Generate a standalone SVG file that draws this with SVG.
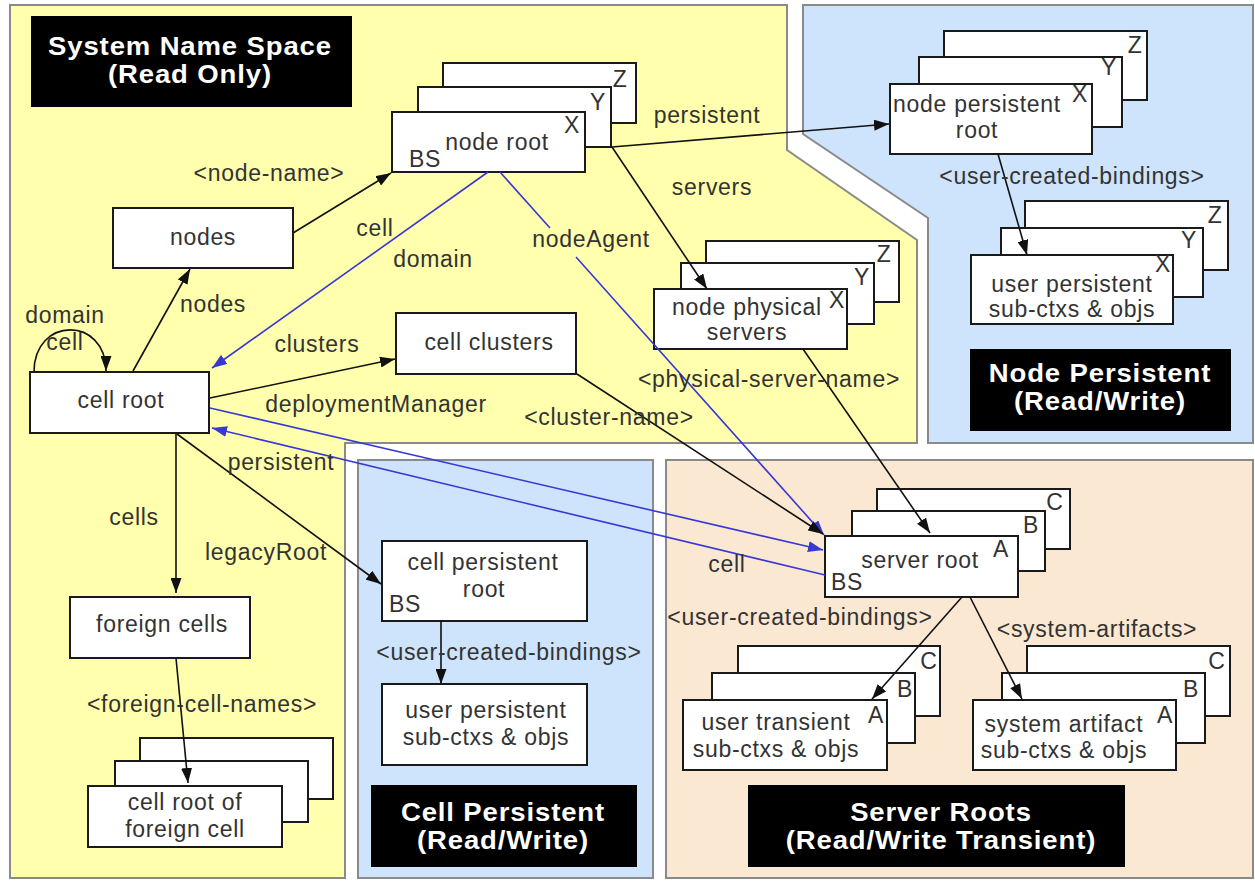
<svg xmlns="http://www.w3.org/2000/svg" width="1255" height="881" viewBox="0 0 1255 881">
<style>
.region{stroke:#8a8a8a;stroke-width:2}
.yel{fill:#ffffad}
.blu{fill:#cde4fc}
.pea{fill:#fbe8d3}
.box{fill:#fff;stroke:#1a1a1a;stroke-width:2}
.ttl{fill:#000}
.tt{font-family:"Liberation Sans",Arial,sans-serif;font-weight:bold;font-size:25px;fill:#fff;text-anchor:middle;letter-spacing:0.8px;transform-box:fill-box;transform-origin:center;transform:scaleX(1.1)}
.t{font-family:"Liberation Sans",Arial,sans-serif;font-size:23px;fill:#333;text-anchor:middle;letter-spacing:0.7px}
.c{fill:none;stroke:#111;stroke-width:1.6;marker-end:url(#ab)}
.c.b{stroke:#3838d2;marker-end:url(#au)}
</style>
<defs>
<marker id="ab" markerUnits="userSpaceOnUse" markerWidth="16" markerHeight="11" refX="15" refY="5.5" orient="auto"><path d="M0,0 L15,5.5 L0,11 z" fill="#111"/></marker>
<marker id="au" markerUnits="userSpaceOnUse" markerWidth="16" markerHeight="11" refX="15" refY="5.5" orient="auto"><path d="M0,0 L15,5.5 L0,11 z" fill="#3838d2"/></marker>
</defs>
<rect width="1255" height="881" fill="#fff"/>
<g id="regions">
<polygon class="region yel" points="10,5 787,5 787,150 917,240 917,443 345,443 345,878 10,878"/>
<polygon class="region blu" points="803,5 1253,5 1253,443 928,443 928,218 803,134"/>
<rect class="region blu" x="358" y="460" width="295" height="418"/>
<rect class="region pea" x="666" y="460" width="587" height="418"/>
</g>
<g id="title-system">
<rect class="ttl" x="31" y="16" width="321" height="91"/>
<text class="tt" x="190" y="55">System Name Space</text>
<text class="tt" x="190" y="83">(Read Only)</text>
</g>
<g id="title-node-persistent">
<rect class="ttl" x="970" y="349" width="261" height="82"/>
<text class="tt" x="1100" y="382">Node Persistent</text>
<text class="tt" x="1100" y="410">(Read/Write)</text>
</g>
<g id="title-cell-persistent">
<rect class="ttl" x="371" y="785" width="266" height="82"/>
<text class="tt" x="503" y="821">Cell Persistent</text>
<text class="tt" x="503" y="849">(Read/Write)</text>
</g>
<g id="title-server-roots">
<rect class="ttl" x="748" y="785" width="377" height="82"/>
<text class="tt" x="941" y="821">Server Roots</text>
<text class="tt" x="941" y="849">(Read/Write Transient)</text>
</g>
<g id="node-nodes">
<rect class="box" x="113" y="208" width="180" height="60"/>
<text class="t" x="203" y="245">nodes</text>
</g>
<g id="node-cell-root">
<rect class="box" x="30" y="372" width="179" height="61"/>
<text class="t" x="121" y="408">cell root</text>
</g>
<g id="node-cell-clusters">
<rect class="box" x="396" y="313" width="180" height="61"/>
<text class="t" x="489" y="350">cell clusters</text>
</g>
<g id="node-foreign-cells">
<rect class="box" x="70" y="597" width="180" height="61"/>
<text class="t" x="162" y="632">foreign cells</text>
</g>
<g id="node-cell-root-foreign">
<rect class="box" x="140" y="738" width="193" height="61"/>
<rect class="box" x="115" y="761" width="193" height="61"/>
<rect class="box" x="88" y="786" width="194" height="61"/>
<text class="t" x="185" y="810">cell root of</text>
<text class="t" x="185" y="837">foreign cell</text>
</g>
<g id="node-node-root">
<rect class="box" x="443" y="63" width="193" height="60"/>
<text class="t" x="620" y="87">Z</text>
<rect class="box" x="418" y="87" width="193" height="60"/>
<text class="t" x="598" y="110">Y</text>
<rect class="box" x="392" y="112" width="193" height="60"/>
<text class="t" x="572" y="133">X</text>
<text class="t" x="497" y="150">node root</text>
<text class="t" x="425" y="167">BS</text>
</g>
<g id="node-node-persistent-root">
<rect class="box" x="944" y="31" width="203" height="69"/>
<text class="t" x="1135" y="53">Z</text>
<rect class="box" x="919" y="57" width="203" height="70"/>
<text class="t" x="1109" y="75">Y</text>
<rect class="box" x="890" y="84" width="202" height="70"/>
<text class="t" x="1080" y="102">X</text>
<text class="t" x="977" y="112">node persistent</text>
<text class="t" x="977" y="138">root</text>
</g>
<g id="node-user-persistent-node">
<rect class="box" x="1025" y="201" width="203" height="69"/>
<text class="t" x="1215" y="223">Z</text>
<rect class="box" x="1001" y="228" width="202" height="69"/>
<text class="t" x="1189" y="248">Y</text>
<rect class="box" x="971" y="255" width="202" height="69"/>
<text class="t" x="1163" y="272">X</text>
<text class="t" x="1072" y="292">user persistent</text>
<text class="t" x="1072" y="317">sub-ctxs &amp; objs</text>
</g>
<g id="node-node-physical-servers">
<rect class="box" x="706" y="241" width="193" height="61"/>
<text class="t" x="884" y="262">Z</text>
<rect class="box" x="681" y="263" width="193" height="61"/>
<text class="t" x="862" y="285">Y</text>
<rect class="box" x="654" y="289" width="193" height="60"/>
<text class="t" x="837" y="308">X</text>
<text class="t" x="747" y="315">node physical</text>
<text class="t" x="747" y="340">servers</text>
</g>
<g id="node-cell-persistent-root">
<rect class="box" x="382" y="541" width="205" height="80"/>
<text class="t" x="483" y="570">cell persistent</text>
<text class="t" x="484" y="597">root</text>
<text class="t" x="405" y="612">BS</text>
</g>
<g id="node-user-persistent-cell">
<rect class="box" x="382" y="684" width="205" height="81"/>
<text class="t" x="486" y="718">user persistent</text>
<text class="t" x="486" y="745">sub-ctxs &amp; objs</text>
</g>
<g id="node-server-root">
<rect class="box" x="877" y="489" width="193" height="60"/>
<text class="t" x="1055" y="510">C</text>
<rect class="box" x="852" y="511" width="193" height="60"/>
<text class="t" x="1031" y="533">B</text>
<rect class="box" x="825" y="536" width="193" height="61"/>
<text class="t" x="1001" y="557">A</text>
<text class="t" x="920" y="568">server root</text>
<text class="t" x="847" y="590">BS</text>
</g>
<g id="node-user-transient">
<rect class="box" x="738" y="646" width="202" height="70"/>
<text class="t" x="929" y="669">C</text>
<rect class="box" x="712" y="673" width="203" height="70"/>
<text class="t" x="905" y="697">B</text>
<rect class="box" x="683" y="700" width="204" height="70"/>
<text class="t" x="876" y="723">A</text>
<text class="t" x="776" y="730">user transient</text>
<text class="t" x="776" y="757">sub-ctxs &amp; objs</text>
</g>
<g id="node-system-artifact">
<rect class="box" x="1027" y="646" width="203" height="70"/>
<text class="t" x="1217" y="669">C</text>
<rect class="box" x="1002" y="673" width="203" height="70"/>
<text class="t" x="1191" y="697">B</text>
<rect class="box" x="973" y="700" width="203" height="70"/>
<text class="t" x="1165" y="723">A</text>
<text class="t" x="1064" y="732">system artifact</text>
<text class="t" x="1064" y="758">sub-ctxs &amp; objs</text>
</g>
<g id="connectors">
<path class="c" d="M293 233 L391 173"/>
<path class="c" d="M133 371 L190 269"/>
<path class="c" d="M34 372 C34 316 106 316 106 371"/>
<path class="c" d="M210 398 L395 359"/>
<path class="c b" d="M488 172 L212 368"/>
<path class="c b" d="M500 172 L550 228 M576 257 L824 535"/>
<path class="c" d="M612 147 L889 124"/>
<path class="c" d="M612 147 L707 289"/>
<path class="c" d="M998 154 L1027 255"/>
<path class="c" d="M577 374 L823 534"/>
<path class="c" d="M803 349 L930 533"/>
<path class="c b" d="M210 408 L823 550"/>
<path class="c b" d="M825 575 L212 428"/>
<path class="c" d="M177 434 L381 584"/>
<path class="c" d="M176 434 L176 593"/>
<path class="c" d="M176 658 L188 783"/>
<path class="c" d="M441 621 L441 684"/>
<path class="c" d="M962 597 L872 699"/>
<path class="c" d="M970 597 L1022 699"/>
</g>
<g id="labels">
<text class="t" x="269" y="181">&lt;node-name&gt;</text>
<text class="t" x="213" y="312">nodes</text>
<text class="t" x="65" y="323">domain</text>
<text class="t" x="65" y="350">cell</text>
<text class="t" x="317" y="352">clusters</text>
<text class="t" x="375" y="236">cell</text>
<text class="t" x="433" y="267">domain</text>
<text class="t" x="591" y="247">nodeAgent</text>
<text class="t" x="707" y="123">persistent</text>
<text class="t" x="712" y="195">servers</text>
<text class="t" x="1072" y="184">&lt;user-created-bindings&gt;</text>
<text class="t" x="769" y="387">&lt;physical-server-name&gt;</text>
<text class="t" x="376" y="412">deploymentManager</text>
<text class="t" x="609" y="425">&lt;cluster-name&gt;</text>
<text class="t" x="281" y="470">persistent</text>
<text class="t" x="134" y="525">cells</text>
<text class="t" x="266" y="560">legacyRoot</text>
<text class="t" x="202" y="712">&lt;foreign-cell-names&gt;</text>
<text class="t" x="509" y="660">&lt;user-created-bindings&gt;</text>
<text class="t" x="727" y="572">cell</text>
<text class="t" x="800" y="625">&lt;user-created-bindings&gt;</text>
<text class="t" x="1097" y="637">&lt;system-artifacts&gt;</text>
</g>
</svg>
